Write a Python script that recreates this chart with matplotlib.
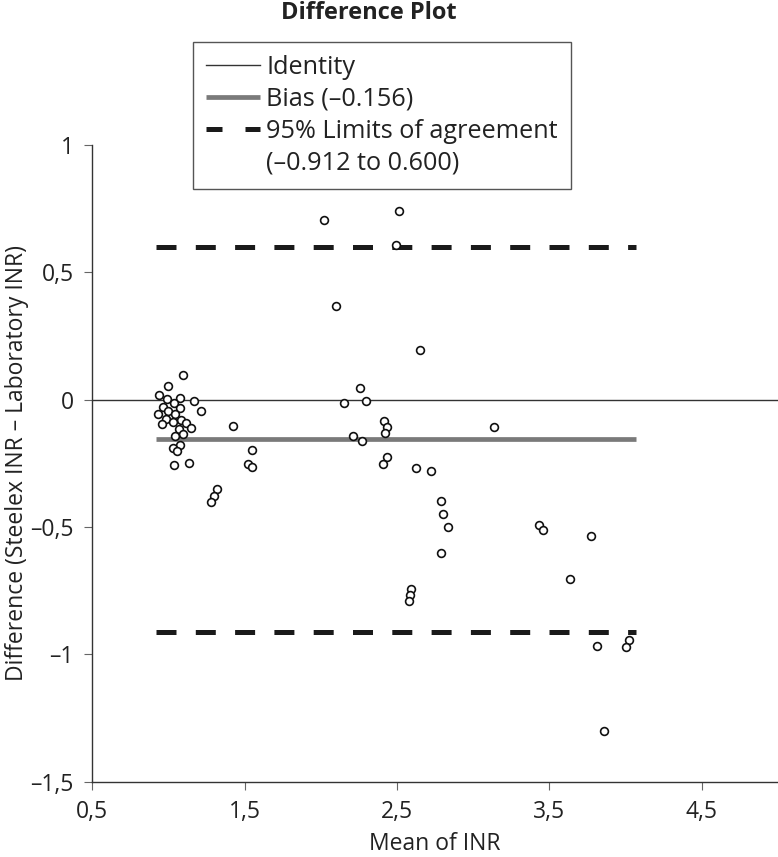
import matplotlib
matplotlib.use("Agg")
import matplotlib.pyplot as plt
from matplotlib.lines import Line2D

plt.rcParams['font.family'] = ['Open Sans', 'DejaVu Sans']

# mean of the two INR readings and their difference (Steelex - lab)
mean_inr = [1.092, 0.995, 0.940, 0.993, 1.074, 1.170, 0.962, 1.039, 1.076, 1.000,
            1.214, 0.930, 1.043, 0.984, 1.081, 1.030, 0.956, 1.118, 1.151, 1.068,
            1.098, 1.041, 1.424, 1.076, 1.028, 1.058, 1.551, 1.039, 1.133, 1.525,
            1.545, 1.317, 1.300, 1.282,
            2.018, 2.515, 2.495, 2.101, 2.653, 2.257, 2.152, 2.294, 2.412, 2.434,
            2.421, 2.208, 2.267, 3.137, 2.432, 2.410, 2.625, 2.725, 2.787, 2.802,
            2.833, 2.787, 3.433, 3.461, 3.637, 2.594, 2.583, 2.576, 3.775, 3.810,
            4.022, 4.005, 3.855]
diff_inr = [0.098, 0.052, 0.017, 0.001, 0.006, -0.004, -0.029, -0.013, -0.034, -0.043,
            -0.046, -0.055, -0.058, -0.075, -0.079, -0.088, -0.097, -0.092, -0.110, -0.116,
            -0.134, -0.143, -0.105, -0.177, -0.189, -0.202, -0.199, -0.256, -0.250, -0.252,
            -0.263, -0.350, -0.379, -0.404,
            0.706, 0.740, 0.607, 0.366, 0.193, 0.047, -0.012, -0.007, -0.084, -0.109,
            -0.132, -0.143, -0.163, -0.108, -0.224, -0.252, -0.270, -0.281, -0.399, -0.451,
            -0.499, -0.601, -0.494, -0.513, -0.704, -0.744, -0.769, -0.792, -0.537, -0.967,
            -0.946, -0.972, -1.303]

bias = -0.156
loa_low, loa_high = -0.912, 0.600
line_x = [0.92, 4.07]

xticks = [0.5, 1.5, 2.5, 3.5, 4.5]
xtick_labels = ['0,5', '1,5', '2,5', '3,5', '4,5']
yticks = [-1.5, -1.0, -0.5, 0.0, 0.5, 1.0]
ytick_labels = ['\u20131,5', '\u20131', '\u20130,5', '0', '0,5', '1']

W, H = 778, 857
fig = plt.figure(figsize=(W / 100, H / 100), dpi=100)
ax = fig.add_axes([92.3 / W, 1 - 781.5 / H, (W - 92.3) / W, (781.5 - 145) / H])

ax.axhline(0, color='#333333', lw=1.0, zorder=1)
ax.plot(line_x, [bias, bias], color='#7a7a7a', lw=3.4, solid_capstyle='butt', zorder=2)
for v in (loa_high, loa_low):
    ax.plot(line_x, [v, v], color='#1a1a1a', lw=3.6, dashes=(4.0, 3.86),
            dash_capstyle='butt', zorder=2)
ax.plot(mean_inr, diff_inr, 'o', ms=5.6, mfc='white', mec='#111111', mew=1.2,
        zorder=3, clip_on=False)

ax.set_xlim(0.5, 5.0)
ax.set_ylim(-1.5, 1.0)
ax.set_xticks(xticks)
ax.set_xticklabels(xtick_labels)
ax.set_yticks(yticks)
ax.set_yticklabels(ytick_labels)
ax.tick_params(axis='both', direction='out', length=5.5, width=0.8, color='#666666',
               labelsize=16.5, labelcolor='#222222')
ax.tick_params(axis='y', pad=8)
ax.tick_params(axis='x', pad=8)
for s in ('top', 'right'):
    ax.spines[s].set_visible(False)
for s in ('left', 'bottom'):
    ax.spines[s].set_color('#333333')
    ax.spines[s].set_linewidth(1.0)

handles = [
    Line2D([], [], color='#333333', lw=1.0),
    Line2D([], [], color='#7a7a7a', lw=3.4, solid_capstyle='butt'),
    Line2D([], [], color='#1a1a1a', lw=3.6, dashes=(3.2, 4.6), dash_capstyle='butt'),
    Line2D([], [], color='none'),
]
labels = ['Identity', 'Bias (\u20130.156)', '95% Limits of agreement',
          '(\u20130.912 to 0.600)']
leg = fig.legend(handles, labels, loc='upper left',
                 bbox_to_anchor=(193 / W, 1 - 42 / H), borderaxespad=0,
                 fontsize=18.2, handlelength=2.15, handletextpad=0.25,
                 labelspacing=0.28, borderpad=0.5, fancybox=False,
                 framealpha=1, edgecolor='#555555')
leg.get_frame().set_linewidth(1.0)
for t in leg.get_texts():
    t.set_color('#222222')

fig.text(369 / W, 1 - 13 / H, 'Difference Plot', ha='center', va='center',
         fontsize=17, fontweight='bold', color='#222222')
fig.text(435 / W, 1 - 844 / H, 'Mean of INR', ha='center', va='center',
         fontsize=16.5, color='#222222')
fig.text(17 / W, 1 - 463 / H, 'Difference (Steelex INR \u2013 Laboratory INR)',
         ha='center', va='center', rotation=90, fontsize=16.5, color='#222222')

fig.savefig('out.png', dpi=100)
